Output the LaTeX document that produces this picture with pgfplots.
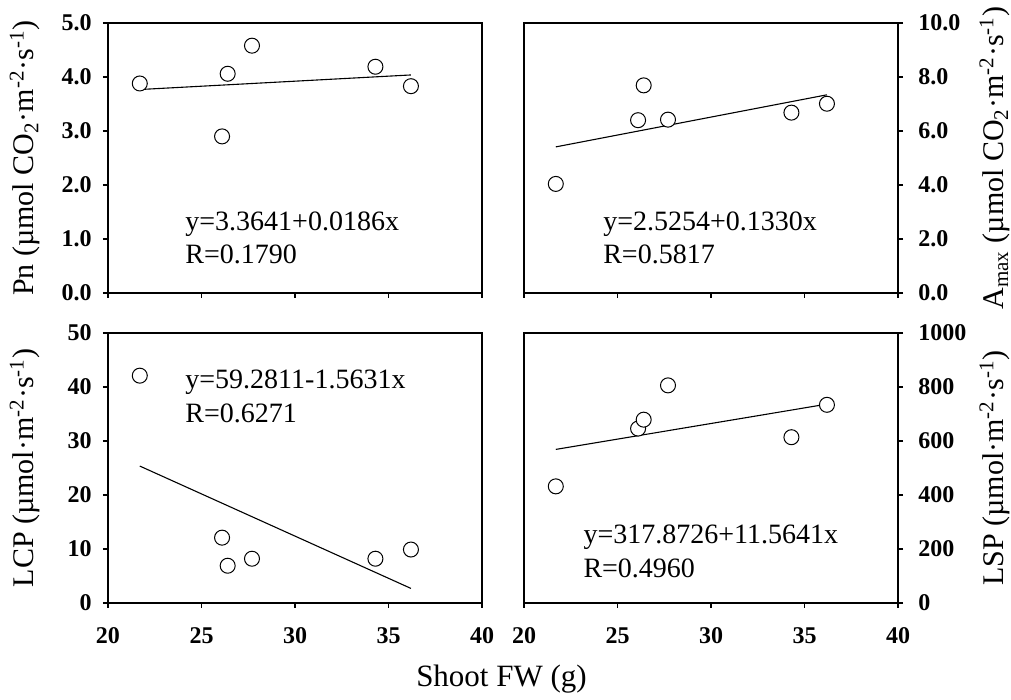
\documentclass[border=0pt]{standalone}
\usepackage{fontspec}
\setmainfont{Liberation Serif}
\usepackage{pgfplots}
\pgfplotsset{compat=1.18}

\pgfplotsset{
  panel/.style={
    scale only axis, width=187pt, height=135pt,
    xmin=20, xmax=40, xtick={20,25,30,35,40},
    tick align=outside, major tick length=2.5pt,
    axis line style={line width=0.7pt},
    every tick/.style={black, line width=0.6pt},
    xtick pos=left,
    tick label style={font=\fontsize{12}{13}\selectfont\bfseries, inner sep=0pt},
    /pgf/number format/assume math mode=true,
    /pgf/number format/1000 sep={},
    xticklabel shift=9.5pt,
    clip=false,
  },
  leftpanel/.style={panel, ytick pos=left, yticklabel pos=left, yticklabel shift=5.5pt,
    every axis y label/.style={at={(axis description cs:-0.222,0.5)}, rotate=90, anchor=center,
      font=\fontsize{15}{17}\selectfont}},
  rightpanel/.style={panel, ytick pos=right, yticklabel pos=right, yticklabel shift=7.5pt,
    every axis y label/.style={at={(axis description cs:1.259,0.5)}, rotate=90, anchor=center,
      font=\fontsize{15}{17}\selectfont}},
  onedec/.style={yticklabel style={/pgf/number format/.cd, fixed, fixed zerofill, precision=1}},
  pts/.style={only marks, mark=*, mark size=3.75pt, mark options={fill=white, draw=black, line width=0.5pt}},
  regline/.style={black, line width=0.55pt, no marks},
}
\tikzset{eq/.style={anchor=base west, inner sep=0pt, font=\fontsize{14}{16}\selectfont}}

\begin{document}
\begin{tikzpicture}
\useasboundingbox (0,0) rectangle (505.5pt,350pt);

% Pn
\begin{axis}[leftpanel, onedec, at={(54pt,203.5pt)}, anchor=south west,
  ymin=0, ymax=5, ytick={0,1,2,3,4,5}, xticklabels={},
  ylabel={Pn (µmol CO\textsubscript{2}·m\textsuperscript{-2}·s\textsuperscript{-1})}]
  \addplot[regline] coordinates {(21.7,3.768)(36.2,4.038)};
  \addplot[pts] coordinates {
    (21.7,3.88)(26.1,2.90)(26.4,4.06)(27.7,4.58)(34.3,4.19)(36.2,3.83)
  };
  \node[eq] at (axis description cs:0.206,0.233) {y=3.3641+0.0186x};
  \node[eq] at (axis description cs:0.206,0.111) {R=0.1790};
\end{axis}

% Amax
\begin{axis}[rightpanel, onedec, at={(262pt,203.5pt)}, anchor=south west,
  ymin=0, ymax=10, ytick={0,2,4,6,8,10}, xticklabels={},
  ylabel={A\textsubscript{max} (µmol CO\textsubscript{2}·m\textsuperscript{-2}·s\textsuperscript{-1})}]
  \addplot[regline] coordinates {(21.7,5.411)(36.2,7.340)};
  \addplot[pts] coordinates {
    (21.7,4.04)(26.1,6.40)(26.4,7.69)(27.7,6.42)(34.3,6.68)(36.2,7.01)
  };
  \node[eq] at (axis description cs:0.211,0.233) {y=2.5254+0.1330x};
  \node[eq] at (axis description cs:0.211,0.111) {R=0.5817};
\end{axis}

% LCP
\begin{axis}[leftpanel, at={(54pt,48.5pt)}, anchor=south west,
  ymin=0, ymax=50, ytick={0,10,20,30,40,50},
  ylabel={LCP (µmol·m\textsuperscript{-2}·s\textsuperscript{-1})}]
  \addplot[regline] coordinates {(21.7,25.36)(36.2,2.70)};
  \addplot[pts] coordinates {
    (21.7,42.1)(26.1,12.1)(26.4,6.9)(27.7,8.2)(34.3,8.2)(36.2,9.9)
  };
  \node[eq] at (axis description cs:0.206,0.796) {y=59.2811-1.5631x};
  \node[eq] at (axis description cs:0.206,0.670) {R=0.6271};
\end{axis}

% LSP
\begin{axis}[rightpanel, at={(262pt,48.5pt)}, anchor=south west,
  ymin=0, ymax=1000, ytick={0,200,400,600,800,1000},
  ylabel={LSP (µmol·m\textsuperscript{-2}·s\textsuperscript{-1})}]
  \addplot[regline] coordinates {(21.7,568.8)(36.2,736.5)};
  \addplot[pts] coordinates {
    (21.7,432)(26.1,646)(26.4,679)(27.7,806)(34.3,614)(36.2,734)
  };
  \node[eq] at (axis description cs:0.158,0.222) {y=317.8726+11.5641x};
  \node[eq] at (axis description cs:0.158,0.0926) {R=0.4960};
\end{axis}

\node[anchor=base, font=\fontsize{15.5}{17}\selectfont] at (250.75pt,6.5pt) {Shoot FW (g)};
\end{tikzpicture}
\end{document}
